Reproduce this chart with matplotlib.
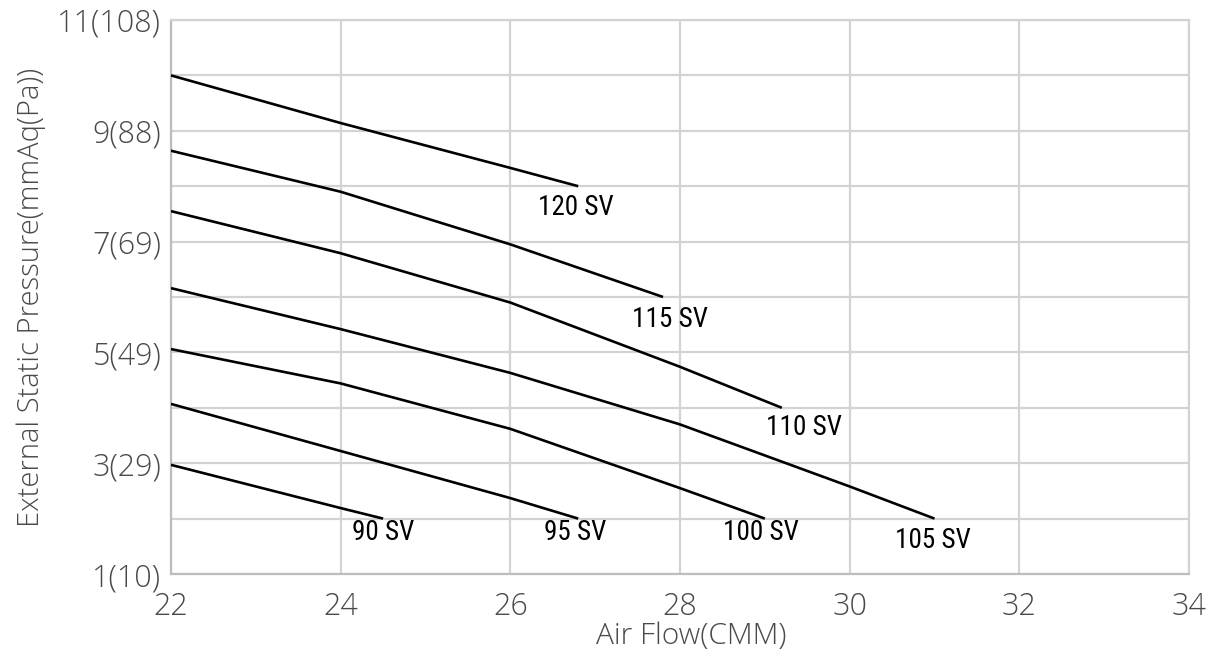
import numpy as np
import matplotlib
matplotlib.use('Agg')
import matplotlib.pyplot as plt

# fan curves: air flow (CMM) vs external static pressure (mmAq)
flow_120 = [22, 24, 26, 26.8]
esp_120 = [10.0, 9.14, 8.33, 8.0]

flow_115 = [22, 24, 26, 27.8]
esp_115 = [8.64, 7.90, 6.95, 6.0]

flow_110 = [22, 24, 26, 28, 29.2]
esp_110 = [7.55, 6.79, 5.90, 4.74, 4.0]

flow_105 = [22, 24, 26, 28, 30, 31]
esp_105 = [6.16, 5.42, 4.63, 3.70, 2.58, 2.0]

flow_100 = [22, 24, 26, 28, 29]
esp_100 = [5.06, 4.44, 3.62, 2.55, 2.0]

flow_95 = [22, 24, 26, 26.8]
esp_95 = [4.07, 3.22, 2.37, 2.0]

flow_90 = [22, 24, 24.5]
esp_90 = [2.97, 2.19, 2.0]

names = ['120 SV', '115 SV', '110 SV', '105 SV', '100 SV', '95 SV', '90 SV']

x_ticks = [22, 24, 26, 28, 30, 32, 34]
y_ticks = [1, 3, 5, 7, 9, 11]
y_labels = ['1(10)', '3(29)', '5(49)', '7(69)', '9(88)', '11(108)']

curves = [(flow_120, esp_120), (flow_115, esp_115), (flow_110, esp_110),
          (flow_105, esp_105), (flow_100, esp_100), (flow_95, esp_95),
          (flow_90, esp_90)]
# label offsets from curve end, in points
label_off = [(-2, -15), (5, -16), (16, -14), (-1, -16), (-3, -10), (-2, -10), (0, -10)]

tick_font = ['Open Sans', 'DejaVu Sans']
label_font = ['Liberation Sans Narrow', 'Roboto Condensed', 'Liberation Sans', 'DejaVu Sans']
gray = '#4a4a4a'
grid_c = '#d3d3d3'

fig = plt.figure(figsize=(12.09, 6.56), dpi=100)
ax = fig.add_axes([171/1209, 1 - 574/656, (1189 - 171)/1209, (574 - 20)/656])

for (fx, fy), name, off in zip(curves, names, label_off):
    ax.plot(fx, fy, color='black', lw=1.9, solid_capstyle='butt', zorder=3)
    ax.annotate(name, (fx[-1], fy[-1]), xytext=off, textcoords='offset points',
                ha='center', va='center', fontsize=19.5, family=label_font,
                fontstretch='condensed', color='black')

ax.set_xlim(22, 34)
ax.set_ylim(1, 11)
ax.set_xticks(x_ticks)
ax.set_yticks(y_ticks)
ax.set_yticklabels(y_labels)
ax.set_yticks(range(1, 12), minor=True)
ax.grid(True, which='both', color=grid_c, lw=1.6, zorder=0)
ax.tick_params(which='both', length=0)
ax.tick_params(axis='y', pad=7)
ax.tick_params(axis='x', pad=12)
for lab in ax.get_xticklabels() + ax.get_yticklabels():
    lab.set_family(tick_font)
    lab.set_fontsize(22)
    lab.set_fontweight('light')
    lab.set_color(gray)

for s in ax.spines.values():
    s.set_color(grid_c)
    s.set_linewidth(1.6)
ax.spines['left'].set_color('#bdbdbd')
ax.spines['bottom'].set_color('#bdbdbd')
ax.set_axisbelow(True)

ax.set_xlabel('Air Flow(CMM)', family=tick_font, fontsize=21.5, fontweight='light',
              color=gray)
ax.xaxis.set_label_coords(0.511, -0.086)
ax.set_ylabel('External Static Pressure(mmAq(Pa))', family=tick_font, fontsize=21,
              fontweight='light', color=gray, labelpad=8)

fig.savefig('out.png', dpi=100)
